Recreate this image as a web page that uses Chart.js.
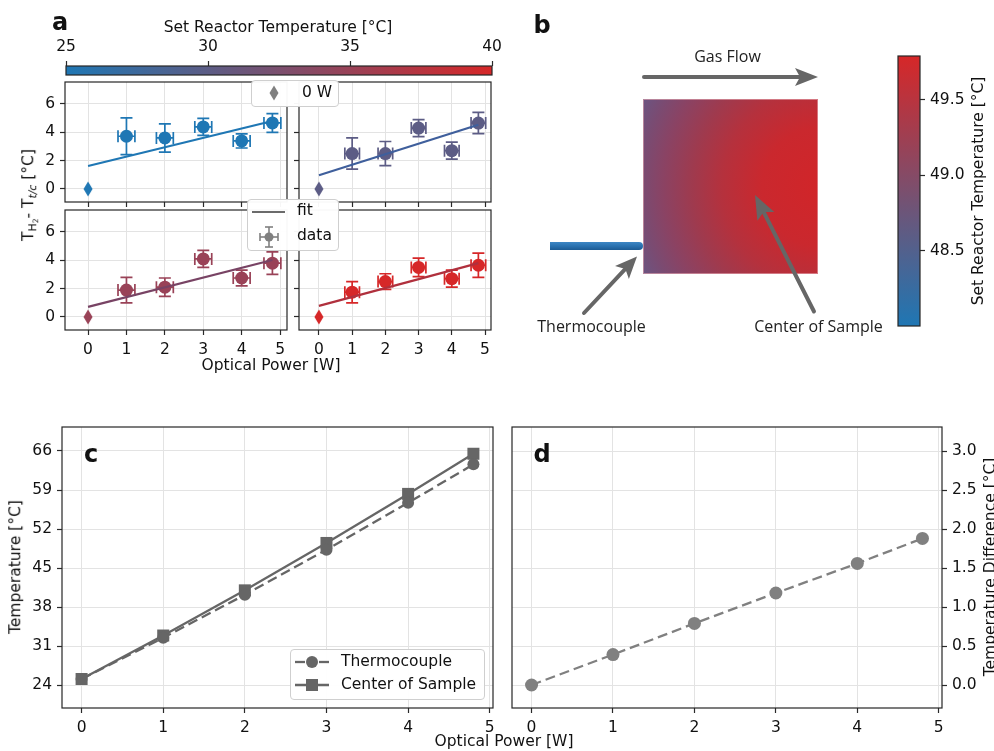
<!DOCTYPE html>
<html><head><meta charset="utf-8">
<script src="https://cdn.jsdelivr.net/npm/chart.js@4.4.1/dist/chart.umd.min.js"></script>
<style>
html,body{margin:0;padding:0;background:#fff}
#fig{position:relative;width:994px;height:751px;overflow:hidden;font-family:'DejaVu Sans',sans-serif;color:#111}
#plots canvas{position:absolute;left:0;top:0}
.t{position:absolute;line-height:1;white-space:nowrap;font-size:15.5px;z-index:10}
.cc{transform:translate(-50%,-50%)}
.lc{transform:translate(0,-50%)}
.rot{transform:translate(-50%,-50%) rotate(-90deg)}
.bold{font-weight:bold;font-size:24px}
.leg{position:absolute;box-sizing:border-box;border:1px solid #cfcfcf;border-radius:4px;background:rgba(255,255,255,0.96);z-index:9}
.ico{position:absolute;z-index:10;overflow:visible}
.os{font-family:'Open Sans',sans-serif;font-size:16px;color:#222}
sub{font-size:0.7em;vertical-align:-0.3em;line-height:0}
</style></head>
<body><div id="fig">
<div id="plots"></div>

<!-- panel a -->
<div class="t bold cc" style="left:60px;top:21.7px">a</div>
<div class="t cc" style="left:278px;top:28px">Set Reactor Temperature [°C]</div>
<div class="t cc" style="left:271px;top:366px">Optical Power [W]</div>
<div class="t rot" style="left:29px;top:194.5px">T<sub>H<sub>2</sub></sub>- T<sub><i>t/c</i></sub> [°C]</div>
<div class="leg" style="left:251px;top:80px;width:88px;height:27px"></div>
<svg class="ico" style="left:268.5px;top:85px" width="10" height="16"><polygon points="5,0.5 9.5,8 5,15.5 0.5,8" fill="#808080"/></svg>
<div class="t lc" style="left:302px;top:93px">0 W</div>
<div class="leg" style="left:247px;top:199px;width:92px;height:52px"></div>
<svg class="ico" style="left:251px;top:208px" width="36" height="8"><line x1="1" y1="4" x2="34" y2="4" stroke="#6b6b6b" stroke-width="2"/></svg>
<svg class="ico" style="left:257px;top:225px" width="24" height="24"><g stroke="#808080" stroke-width="1.6" fill="none"><line x1="12" y1="2" x2="12" y2="22"/><line x1="8" y1="2" x2="16" y2="2"/><line x1="8" y1="22" x2="16" y2="22"/><line x1="3" y1="12" x2="21" y2="12"/><line x1="3" y1="8" x2="3" y2="16"/><line x1="21" y1="8" x2="21" y2="16"/></g><circle cx="12" cy="12" r="4.5" fill="#808080"/></svg>
<div class="t lc" style="left:297px;top:211px">fit</div>
<div class="t lc" style="left:297px;top:236px">data</div>

<!-- panel b -->
<div class="t bold cc" style="left:542px;top:24.7px">b</div>
<div class="t os cc" style="left:727.5px;top:55.5px">Gas Flow</div>
<div class="t os cc" style="left:591.5px;top:325.5px">Thermocouple</div>
<div class="t os cc" style="left:818.5px;top:325.5px">Center of Sample</div>
<div class="t rot" style="left:979px;top:191px">Set Reactor Temperature [°C]</div>

<!-- panel c / d -->
<div class="t bold cc" style="left:91px;top:453.7px">c</div>
<div class="t bold cc" style="left:542px;top:453.7px">d</div>
<div class="t rot" style="left:16px;top:567px">Temperature [°C]</div>
<div class="t rot" style="left:991px;top:567px">Temperature Difference [°C]</div>
<div class="t cc" style="left:504px;top:742px">Optical Power [W]</div>
<div class="leg" style="left:290px;top:649px;width:195px;height:51px"></div>
<svg class="ico" style="left:293px;top:654px" width="38" height="16"><g stroke="#666" stroke-width="2.3"><line x1="2" y1="8" x2="12" y2="8"/><line x1="26" y1="8" x2="36" y2="8"/></g><circle cx="19" cy="8" r="6" fill="#666"/></svg>
<svg class="ico" style="left:293px;top:677px" width="38" height="16"><line x1="2" y1="8" x2="36" y2="8" stroke="#666" stroke-width="2.3"/><rect x="13" y="2" width="12" height="12" fill="#666"/></svg>
<div class="t lc" style="left:341px;top:662px">Thermocouple</div>
<div class="t lc" style="left:341px;top:685px">Center of Sample</div>
</div>

<script>
// ---------------- data ----------------
const powerW = [1, 2, 3, 4, 4.8];            // illuminated points, panel a
const zeroPowerW = [0];                       // dark (0 W) reference
const setTempsC = [25, 30, 35, 40];           // set reactor temperatures of the four subplots
const dT_25C = [3.72, 3.6, 4.38, 3.39, 4.66];
const dTerr_25C = [1.3, 1.0, 0.6, 0.5, 0.66];
const dT_30C = [2.5, 2.5, 4.3, 2.7, 4.65];
const dTerr_30C = [1.1, 0.85, 0.6, 0.6, 0.75];
const dT_35C = [1.9, 2.1, 4.1, 2.75, 3.8];
const dTerr_35C = [0.9, 0.65, 0.6, 0.55, 0.8];
const dT_40C = [1.75, 2.5, 3.5, 2.7, 3.65];
const dTerr_40C = [0.75, 0.55, 0.65, 0.6, 0.85];
const dT_0W = [0, 0, 0, 0];
const fitPowerW = [0, 4.8];
const fit_25C = [1.62, 4.8];
const fit_30C = [0.97, 4.53];
const fit_35C = [0.71, 4.02];
const fit_40C = [0.78, 3.8];
const powerErrW = 0.22;
const powerTicks = [0, 1, 2, 3, 4, 5];
const dTTicks = [0, 2, 4, 6];
const cbarTicksA = [25, 30, 35, 40];
const cbarTicksB = [48.5, 49.0, 49.5];
const cbarRangeB = [48.0, 49.79];
const powerAllW = [0, 1, 2, 3, 4, 4.8];
const thermocoupleC = [25.1, 32.5, 40.2, 48.3, 56.7, 63.6];
const sampleCenterC = [25.1, 32.9, 41.0, 49.5, 58.3, 65.5];
const tempDiffC = [0.0, 0.39, 0.79, 1.18, 1.56, 1.88];
const tempTicks = [24, 31, 38, 45, 52, 59, 66];
const diffTicks = [0, 0.5, 1.0, 1.5, 2.0, 2.5, 3.0];

// ---------------- setup ----------------
const W = 994, H = 751;
const plots = document.getElementById('plots');
Chart.defaults.font.family = "'DejaVu Sans', sans-serif";
Chart.defaults.font.size = 15.5;
Chart.defaults.color = '#111';
Chart.defaults.animation = false;
Chart.defaults.responsive = false;
Chart.defaults.devicePixelRatio = 1;
Chart.defaults.events = [];
Chart.defaults.plugins.legend.display = false;
Chart.defaults.plugins.tooltip.enabled = false;

function rgb(h){return [1,3,5].map(i=>parseInt(h.substr(i,2),16));}
const C0 = rgb('#1f77b4'), C1 = rgb('#d62728');
function cmap(t){t=Math.max(0,Math.min(1,t));const c=C0.map((v,i)=>Math.round(v+(C1[i]-v)*t));return `rgb(${c[0]},${c[1]},${c[2]})`;}
function tempColor(T){return cmap((T-25)/15);}

function axis(o){
  if (o.display === false) return {type:'linear', display:false, min:o.min, max:o.max, reverse:!!o.reverse};
  return {
    type:'linear', position:o.pos, min:o.min, max:o.max,
    afterBuildTicks: s => { s.ticks = o.ticks.map(v => ({value:v})); },
    afterFit: s => { if (s.isHorizontal()) s.height = o.size; else s.width = o.size; },
    grid:{display:true, drawOnChartArea:o.grid !== false, color:'#e3e3e3', lineWidth:1, tickLength:5, tickColor:'#2a2a2a', tickWidth:1.2},
    border:{display:false},
    ticks:{display:o.labels !== false, padding:o.pad || 5, maxRotation:0, autoSkip:false, color:'#111',
      callback: o.fmt || (v => String(v))}
  };
}

const frame = {id:'frame', afterDatasetsDraw(chart){
  const a = chart.chartArea, ctx = chart.ctx;
  ctx.save(); ctx.strokeStyle = '#262626'; ctx.lineWidth = 1.2;
  ctx.strokeRect(a.left, a.top, a.right - a.left, a.bottom - a.top); ctx.restore();
}};

const errorBars = {id:'errorBars', beforeDatasetDraw(chart, args){
  const ds = chart.data.datasets[args.index];
  if (!ds.errY) return;
  const ctx = chart.ctx, x = chart.scales.x, y = chart.scales.y, cap = 6;
  ctx.save(); ctx.strokeStyle = ds.pointBackgroundColor; ctx.lineWidth = 1.7;
  ds.data.forEach((p, i) => {
    const px = x.getPixelForValue(p.x), py = y.getPixelForValue(p.y);
    const y0 = y.getPixelForValue(p.y - ds.errY[i]), y1 = y.getPixelForValue(p.y + ds.errY[i]);
    const x0 = x.getPixelForValue(p.x - ds.errX), x1 = x.getPixelForValue(p.x + ds.errX);
    ctx.beginPath();
    ctx.moveTo(px, y0); ctx.lineTo(px, y1);
    ctx.moveTo(px - cap, y0); ctx.lineTo(px + cap, y0);
    ctx.moveTo(px - cap, y1); ctx.lineTo(px + cap, y1);
    ctx.moveTo(x0, py); ctx.lineTo(x1, py);
    ctx.moveTo(x0, py - cap); ctx.lineTo(x0, py + cap);
    ctx.moveTo(x1, py - cap); ctx.lineTo(x1, py + cap);
    ctx.stroke();
  });
  ctx.restore();
}};

const cbar = {id:'cbar', beforeDatasetsDraw(chart, args, opts){
  const a = chart.chartArea, ctx = chart.ctx, sc = chart.scales[opts.axis];
  const p0 = sc.getPixelForValue(sc.min), p1 = sc.getPixelForValue(sc.max);
  const g = opts.axis === 'x' ? ctx.createLinearGradient(p0, 0, p1, 0) : ctx.createLinearGradient(0, p0, 0, p1);
  for (let i = 0; i <= 20; i++) g.addColorStop(i/20, cmap(i/20));
  ctx.save(); ctx.fillStyle = g; ctx.fillRect(a.left, a.top, a.right - a.left, a.bottom - a.top); ctx.restore();
}};

function diamond(color){
  const c = document.createElement('canvas'); c.width = 10; c.height = 16;
  const g = c.getContext('2d'); g.fillStyle = color; g.beginPath();
  g.moveTo(5, 0.5); g.lineTo(9.5, 8); g.lineTo(5, 15.5); g.lineTo(0.5, 8); g.closePath(); g.fill();
  return c;
}

function makeChart(area, xo, yo, datasets, plugins, pluginOpts){
  const cv = document.createElement('canvas'); cv.width = W; cv.height = H; plots.appendChild(cv);
  const ys = yo.display === false ? 0 : yo.size, xs = xo.display === false ? 0 : xo.size;
  const pad = {
    left: area.l - (yo.pos === 'left' ? ys : 0),
    right: W - area.r - (yo.pos === 'right' ? ys : 0),
    top: area.t - (xo.pos === 'top' ? xs : 0),
    bottom: H - area.b - (xo.pos === 'bottom' ? xs : 0)
  };
  return new Chart(cv, {type:'scatter', data:{datasets},
    options:{layout:{padding:pad}, scales:{x:axis(xo), y:axis(yo)}, plugins:Object.assign({legend:{display:false}}, pluginOpts || {})},
    plugins});
}
const pts = (xs, ys) => xs.map((x, i) => ({x, y: ys[i]}));

// ---------------- panel a ----------------
const subplots = [
  {area:{l:65, t:82, r:287, b:202}, dT:dT_25C, err:dTerr_25C, fit:fit_25C, fitColor:'#1f77b4', xl:false, yl:true},
  {area:{l:299, t:82, r:491, b:202}, dT:dT_30C, err:dTerr_30C, fit:fit_30C, fitColor:'#3f5f9c', xl:false, yl:false},
  {area:{l:65, t:210, r:287, b:330}, dT:dT_35C, err:dTerr_35C, fit:fit_35C, fitColor:'#784364', xl:true, yl:true},
  {area:{l:299, t:210, r:491, b:330}, dT:dT_40C, err:dTerr_40C, fit:fit_40C, fitColor:'#b0303d', xl:true, yl:false}
];
subplots.forEach((sp, k) => {
  const col = tempColor(setTempsC[k]);
  makeChart(sp.area,
    {pos:'bottom', min:-0.6, max:5.18, ticks:powerTicks, size: sp.xl ? 30 : 6, labels: sp.xl, pad:6},
    {pos:'left', min:-0.92, max:7.55, ticks:dTTicks, size: sp.yl ? 40 : 6, labels: sp.yl},
    [
      {label:'fit', data:pts(fitPowerW, sp.fit), showLine:true, borderColor:sp.fitColor, borderWidth:2.2, pointRadius:0},
      {label:'0 W', data:pts(zeroPowerW, [dT_0W[k]]), pointStyle:diamond(col), pointRadius:7, showLine:false},
      {label:'data', data:pts(powerW, sp.dT), errY:sp.err, errX:powerErrW, showLine:false,
        pointRadius:6.5, pointBackgroundColor:col, pointBorderColor:col, pointBorderWidth:0}
    ], [errorBars, frame]);
});

// colorbar a
makeChart({l:66, t:66, r:492, b:75},
  {pos:'top', min:25, max:40, ticks:cbarTicksA, size:30, grid:false},
  {display:false, min:0, max:1}, [], [cbar, frame], {cbar:{axis:'x'}});

// ---------------- panel b ----------------
const gasArrow = {x0:104, y0:37, x1:278, y1:37};
const sampleBox = {x0:103, x1:278, y0:59, y1:234};
const tcRod = {x0:10, x1:103, y:206, w:8};
const tcArrow = {x0:44, y0:273, x1:97, y1:216.5};
const centerArrow = {x0:274, y0:271.5, x1:215, y1:155};
const hotSpot = {x:282, y:147, r:200};

function arrow(ctx, x0, y0, x1, y1, hl, hw, color){
  const a = Math.atan2(y1 - y0, x1 - x0), c = Math.cos(a), s = Math.sin(a);
  const bx = x1 - hl*c, by = y1 - hl*s, nx = -s, ny = c;
  ctx.strokeStyle = color; ctx.fillStyle = color; ctx.lineWidth = 4; ctx.lineCap = 'round';
  ctx.beginPath(); ctx.moveTo(x0, y0); ctx.lineTo(bx + 3*c, by + 3*s); ctx.stroke();
  ctx.beginPath(); ctx.moveTo(x1, y1);
  ctx.lineTo(bx + nx*hw - 2*c, by + ny*hw - 2*s);
  ctx.lineTo(bx + 3*c, by + 3*s);
  ctx.lineTo(bx - nx*hw - 2*c, by - ny*hw - 2*s);
  ctx.closePath(); ctx.fill();
}
const diagram = {id:'diagram', afterDatasetsDraw(chart){
  const ctx = chart.ctx, X = v => chart.scales.x.getPixelForValue(v), Y = v => chart.scales.y.getPixelForValue(v);
  ctx.save();
  // sample temperature field
  const g = ctx.createRadialGradient(X(hotSpot.x), Y(hotSpot.y), 0, X(hotSpot.x), Y(hotSpot.y), X(hotSpot.r) - X(0));
  g.addColorStop(0, '#d12529'); g.addColorStop(0.3, '#ca282e'); g.addColorStop(0.5, '#b5313d');
  g.addColorStop(0.65, '#9f3a4e'); g.addColorStop(0.8, '#8a4364'); g.addColorStop(0.9, '#7a4b72'); g.addColorStop(1, '#6b5582');
  ctx.fillStyle = g;
  ctx.fillRect(X(sampleBox.x0), Y(sampleBox.y0), X(sampleBox.x1) - X(sampleBox.x0), Y(sampleBox.y1) - Y(sampleBox.y0));
  ctx.strokeStyle = 'rgba(230,170,180,0.6)'; ctx.lineWidth = 1;
  ctx.strokeRect(X(sampleBox.x0) + 0.5, Y(sampleBox.y0) + 0.5, X(sampleBox.x1) - X(sampleBox.x0) - 1, Y(sampleBox.y1) - Y(sampleBox.y0) - 1);
  // thermocouple rod
  const ry = Y(tcRod.y), rw = tcRod.w, rx0 = X(tcRod.x0), rx1 = X(tcRod.x1);
  const rg = ctx.createLinearGradient(0, ry - rw/2, 0, ry + rw/2);
  rg.addColorStop(0, '#3d86c4'); rg.addColorStop(0.5, '#2a72b0'); rg.addColorStop(1, '#1c5a92');
  ctx.fillStyle = rg; ctx.beginPath();
  ctx.moveTo(rx0, ry - rw/2); ctx.lineTo(rx1 - rw/2, ry - rw/2);
  ctx.arc(rx1 - rw/2, ry, rw/2, -Math.PI/2, Math.PI/2); ctx.lineTo(rx0, ry + rw/2); ctx.closePath(); ctx.fill();
  // arrows
  arrow(ctx, X(gasArrow.x0), Y(gasArrow.y0), X(gasArrow.x1), Y(gasArrow.y1), 21, 9, '#666666');
  arrow(ctx, X(tcArrow.x0), Y(tcArrow.y0), X(tcArrow.x1), Y(tcArrow.y1), 20, 9.5, '#666666');
  arrow(ctx, X(centerArrow.x0), Y(centerArrow.y0), X(centerArrow.x1), Y(centerArrow.y1), 22, 9.5, '#666666');
  ctx.restore();
}};
makeChart({l:540, t:40, r:880, b:340},
  {display:false, min:0, max:340}, {display:false, min:0, max:300, reverse:true}, [], [diagram]);

// colorbar b
makeChart({l:898, t:56, r:920, b:326},
  {display:false, min:0, max:1},
  {pos:'right', min:cbarRangeB[0], max:cbarRangeB[1], ticks:cbarTicksB, size:50, grid:false, fmt:v => v.toFixed(1)},
  [], [cbar, frame], {cbar:{axis:'y'}});

// ---------------- panel c ----------------
makeChart({l:62, t:427, r:493, b:708},
  {pos:'bottom', min:-0.24, max:5.04, ticks:powerTicks, size:30, pad:6},
  {pos:'left', min:19.9, max:70.3, ticks:tempTicks, size:50},
  [
    {label:'Thermocouple', data:pts(powerAllW, thermocoupleC), showLine:true, borderColor:'#666', borderWidth:2.3, borderDash:[10,5],
      pointStyle:'circle', pointRadius:6, pointBackgroundColor:'#666', pointBorderWidth:0},
    {label:'Center of Sample', data:pts(powerAllW, sampleCenterC), showLine:true, borderColor:'#666', borderWidth:2.3,
      pointStyle:'rect', pointRadius:8.5, pointBackgroundColor:'#666', pointBorderWidth:0}
  ], [frame]);

// ---------------- panel d ----------------
makeChart({l:512, t:427, r:942, b:708},
  {pos:'bottom', min:-0.24, max:5.04, ticks:powerTicks, size:30, pad:6},
  {pos:'right', min:-0.295, max:3.31, ticks:diffTicks, size:45, fmt:v => v.toFixed(1)},
  [
    {label:'Temperature Difference', data:pts(powerAllW, tempDiffC), showLine:true, borderColor:'#808080', borderWidth:2.3, borderDash:[10,5],
      pointStyle:'circle', pointRadius:6.5, pointBackgroundColor:'#808080', pointBorderWidth:0}
  ], [frame]);
</script>
</body></html>
